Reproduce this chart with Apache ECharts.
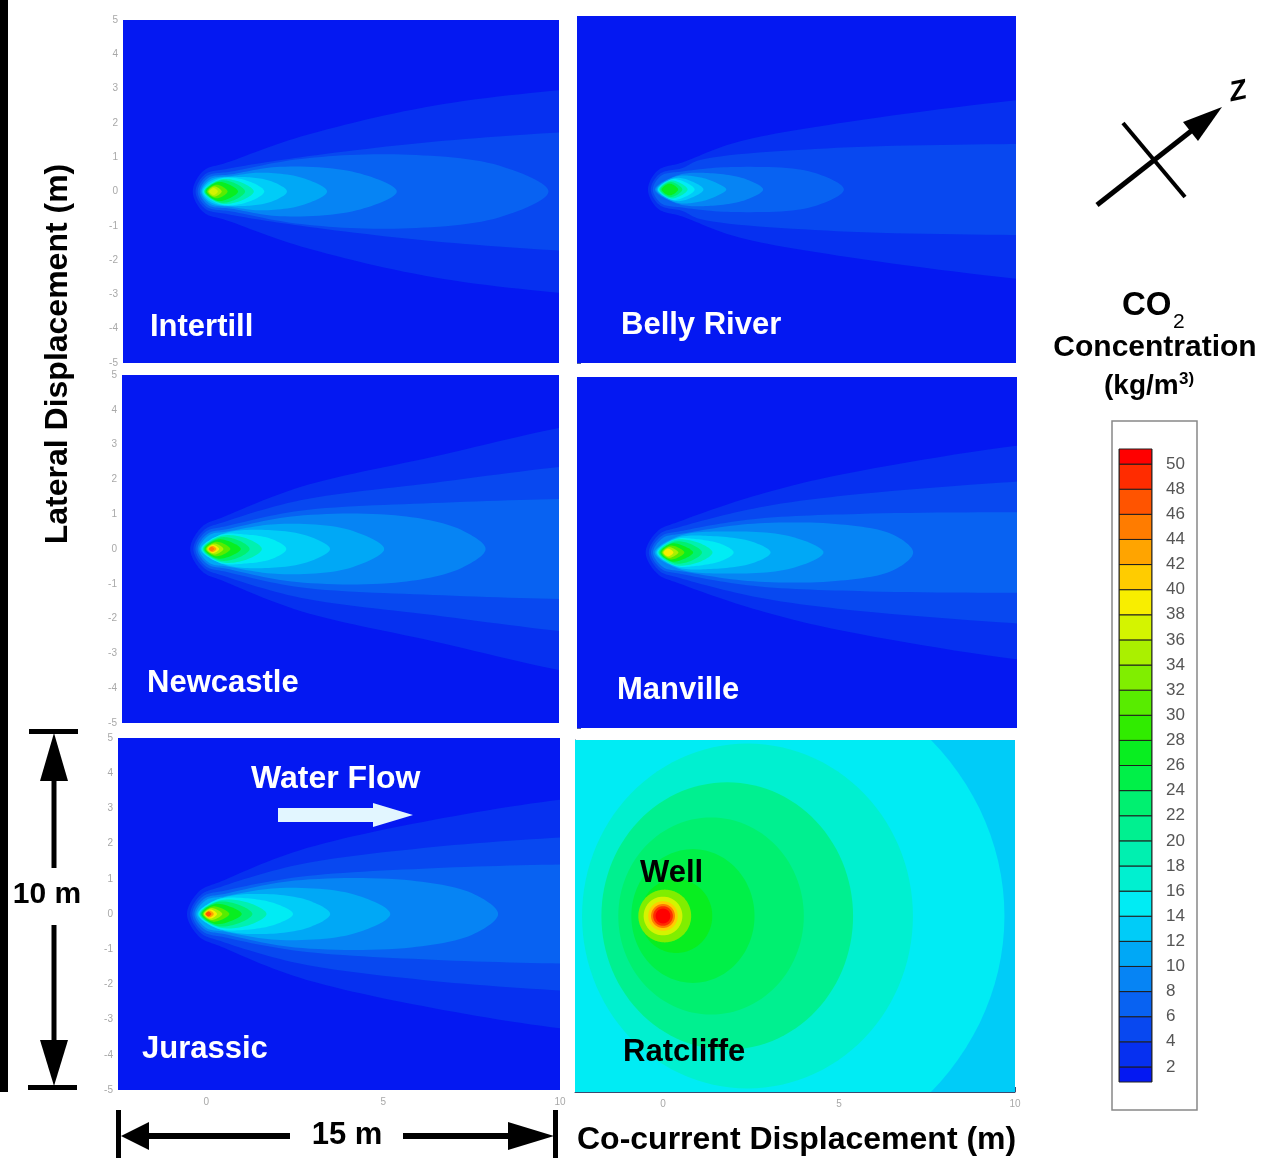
<!DOCTYPE html>
<html><head><meta charset="utf-8">
<script src="https://cdn.jsdelivr.net/npm/echarts@6/dist/echarts.min.js"></script>
<style>html,body{margin:0;padding:0;background:#fff}#c{width:1272px;height:1158px}</style>
</head><body><div id="c"></div>
<script>
// ===== DATA =====
const panelNames = ['Intertill', 'Belly River', 'Newcastle', 'Manville', 'Jurassic', 'Ratcliffe'];
const colorbarTicks = [2,4,6,8,10,12,14,16,18,20,22,24,26,28,30,32,34,36,38,40,42,44,46,48,50];
const xTickLabels = [0, 5, 10];
const xMinorTicks = [-2,-1,0,1,2,3,4,5,6,7,8,9,10];
// band colours: index = level/2  (<2, 2-4, ..., 48-50, >50)
const bandColors = ['#0418f2','#0630f0','#0848f0','#0862f2','#0684f4','#00a8f6','#00ccf8','#00ecf4',
  '#00f0d0','#00f0b0','#00f090','#00f070','#00f048','#08ee20','#30ec00','#58ec00','#80ee00','#aaf000',
  '#d4f400','#f8ee00','#ffcc00','#ffa400','#ff7c00','#ff5400','#ff2c00','#ff0000'];

// plume contours: [level, upper boundary points [x, half-width]]
const intertillBase = 0;
const intertillBands = [
  [2,  [[-0.5,0],[-0.2,0.6],[0.5,0.85],[2.6,1.6],[6.4,2.5],[10.5,3.0],[12,3.1]]],
  [4,  [[-0.42,0],[-0.15,0.5],[0.5,0.66],[2.6,1.0],[6.4,1.45],[10.5,1.75],[12,1.8]]],
  [6,  [[-0.36,0],[-0.1,0.45],[0.6,0.58],[2.6,0.95],[5.5,1.08],[8.3,0.75],[9.7,0]]],
  [8,  [[-0.3,0],[-0.05,0.4],[0.6,0.5],[2.0,0.72],[4.2,0.55],[5.35,0]]],
  [10, [[-0.26,0],[0.0,0.36],[0.6,0.45],[1.5,0.55],[2.7,0.38],[3.35,0]]],
  [12, [[-0.23,0],[0.05,0.33],[1.0,0.42],[1.8,0.28],[2.2,0]]],
  [14, [[-0.2,0],[0.3,0.38],[1.1,0.3],[1.55,0]]],
  [18, [[-0.18,0],[0.3,0.35],[0.9,0.26],[1.25,0]]],
  [22, [[-0.16,0],[0.3,0.32],[0.75,0.22],[1.0,0]]],
  [26, [[-0.13,0],[0.25,0.28],[0.8,0]]],
  [30, [[-0.1,0],[0.18,0.2],[0.5,0]]],
  [34, [[-0.06,0],[0.12,0.15],[0.33,0]]],
  [36, [[-0.03,0],[0.1,0.1],[0.22,0]]]
];
const bellyRiverBase = 0;
const bellyRiverBands = [
  [2,  [[-0.48,0],[-0.2,0.55],[0.5,0.78],[2.0,1.35],[4.9,1.9],[10.5,2.62],[12,2.7]]],
  [4,  [[-0.4,0],[-0.15,0.45],[0.5,0.62],[1.0,0.85],[4.9,1.2],[10.5,1.32],[12,1.35]]],
  [6,  [[-0.34,0],[-0.1,0.4],[0.5,0.52],[2.0,0.65],[4.2,0.5],[5.1,0]]],
  [8,  [[-0.28,0],[0.4,0.42],[1.3,0.47],[2.3,0.3],[2.8,0]]],
  [10, [[-0.24,0],[0.3,0.37],[0.9,0.37],[1.45,0.2],[1.75,0]]],
  [12, [[-0.21,0],[0.3,0.33],[0.8,0.22],[1.1,0]]],
  [14, [[-0.19,0],[0.25,0.3],[0.85,0]]],
  [18, [[-0.16,0],[0.2,0.26],[0.65,0]]],
  [22, [[-0.13,0],[0.17,0.22],[0.5,0]]],
  [26, [[-0.09,0],[0.14,0.17],[0.38,0]]]
];
const newcastleBase = 0;
const newcastleBands = [
  [2,  [[-0.55,0],[-0.2,0.65],[0.4,0.92],[2.6,1.78],[6.4,2.65],[10.5,3.56],[12,3.65]]],
  [4,  [[-0.46,0],[-0.15,0.55],[0.4,0.77],[2.6,1.4],[6.4,1.9],[10.5,2.4],[12,2.45]]],
  [6,  [[-0.4,0],[-0.1,0.5],[0.5,0.66],[2.6,1.1],[6.4,1.32],[10.5,1.45],[12,1.48]]],
  [8,  [[-0.34,0],[-0.05,0.44],[0.5,0.57],[2.5,0.95],[5.5,0.95],[7.2,0.55],[7.9,0]]],
  [10, [[-0.29,0],[0.0,0.4],[0.5,0.5],[2.0,0.72],[4.0,0.55],[5.0,0]]],
  [12, [[-0.25,0],[0.4,0.44],[1.5,0.55],[2.8,0.38],[3.45,0]]],
  [14, [[-0.22,0],[0.3,0.4],[1.0,0.42],[1.8,0.28],[2.2,0]]],
  [18, [[-0.2,0],[0.35,0.38],[1.1,0.29],[1.5,0]]],
  [22, [[-0.17,0],[0.3,0.33],[0.85,0.24],[1.15,0]]],
  [26, [[-0.14,0],[0.28,0.28],[0.9,0]]],
  [30, [[-0.11,0],[0.2,0.21],[0.6,0]]],
  [34, [[-0.08,0],[0.14,0.16],[0.4,0]]],
  [38, [[-0.05,0],[0.1,0.12],[0.28,0]]],
  [42, [[-0.03,0],[0.08,0.09],[0.2,0]]],
  [44, [[-0.01,0],[0.06,0.06],[0.14,0]]]
];
const manvilleBase = 0;
const manvilleBands = [
  [2,  [[-0.55,0],[-0.2,0.62],[0.4,0.88],[2.5,1.6],[4.9,2.2],[10.5,3.1],[12,3.15]]],
  [4,  [[-0.46,0],[-0.15,0.53],[0.4,0.72],[2.5,1.25],[4.9,1.6],[10.5,2.05],[12,2.1]]],
  [6,  [[-0.4,0],[-0.1,0.47],[0.5,0.62],[2.5,0.95],[5.5,1.1],[10.5,1.15],[12,1.15]]],
  [8,  [[-0.34,0],[-0.05,0.42],[0.5,0.54],[2.5,0.82],[5.0,0.8],[6.5,0.5],[7.05,0]]],
  [10, [[-0.29,0],[0.4,0.47],[1.8,0.6],[3.6,0.45],[4.5,0]]],
  [12, [[-0.25,0],[0.35,0.42],[1.3,0.47],[2.5,0.3],[3.0,0]]],
  [14, [[-0.22,0],[0.3,0.38],[0.9,0.38],[1.65,0.22],[1.95,0]]],
  [18, [[-0.19,0],[0.3,0.36],[1.0,0.26],[1.35,0]]],
  [22, [[-0.16,0],[0.28,0.31],[0.78,0.22],[1.05,0]]],
  [26, [[-0.13,0],[0.22,0.26],[0.8,0]]],
  [30, [[-0.1,0],[0.17,0.2],[0.55,0]]],
  [34, [[-0.07,0],[0.12,0.15],[0.38,0]]],
  [38, [[-0.04,0],[0.09,0.11],[0.24,0]]]
];
const jurassicBase = 0;
const jurassicBands = [
  [2,  [[-0.55,0],[-0.2,0.65],[0.4,0.92],[2.6,1.8],[6.4,2.67],[10.5,3.3],[12,3.35]]],
  [4,  [[-0.46,0],[-0.15,0.55],[0.4,0.77],[2.6,1.4],[6.4,1.9],[10.5,2.2],[12,2.25]]],
  [6,  [[-0.4,0],[-0.1,0.5],[0.5,0.66],[2.6,1.05],[6.4,1.3],[10.5,1.42],[12,1.45]]],
  [8,  [[-0.34,0],[-0.05,0.44],[0.5,0.57],[2.5,0.95],[5.8,0.95],[7.6,0.55],[8.25,0]]],
  [10, [[-0.29,0],[0.0,0.4],[0.5,0.5],[2.1,0.74],[4.2,0.55],[5.2,0]]],
  [12, [[-0.25,0],[0.4,0.44],[1.6,0.57],[2.9,0.38],[3.5,0]]],
  [14, [[-0.22,0],[0.3,0.41],[1.1,0.45],[2.0,0.28],[2.45,0]]],
  [18, [[-0.2,0],[0.4,0.39],[1.25,0.3],[1.7,0]]],
  [22, [[-0.17,0],[0.3,0.34],[0.95,0.25],[1.3,0]]],
  [26, [[-0.14,0],[0.28,0.29],[1.0,0]]],
  [30, [[-0.11,0],[0.2,0.22],[0.65,0]]],
  [34, [[-0.08,0],[0.15,0.17],[0.45,0]]],
  [38, [[-0.06,0],[0.11,0.13],[0.3,0]]],
  [42, [[-0.04,0],[0.08,0.1],[0.21,0]]],
  [46, [[-0.02,0],[0.06,0.07],[0.14,0]]]
];
// radial contours around the Ratcliffe well: [level, xLeft, xRight, yHalf]
const ratcliffeBase = 12;
const ratcliffeRings = [
  [14, -6.7, 9.7, 7.5],
  [16, -2.3, 7.1, 4.9],
  [20, -1.75, 5.4, 3.8],
  [22, -1.27, 4.0, 2.8],
  [24, -0.9, 2.6, 1.9],
  [26, -0.65, 1.4, 1.05],
  [32, -0.7, 0.8, 0.75],
  [36, -0.55, 0.55, 0.55],
  [40, -0.42, 0.42, 0.42],
  [44, -0.34, 0.34, 0.34],
  [48, -0.28, 0.28, 0.28],
  [50, -0.21, 0.21, 0.21]
];

// ===== LAYOUT =====
const panelBoxes = [
  [123, 20, 436, 343], [577, 16, 439, 347],
  [122, 375, 437, 348], [577, 377, 440, 351],
  [118, 738, 442, 352], [575, 740, 440, 352]
];
const FONT = '"Liberation Sans", Arial, Helvetica, sans-serif';
const colorOf = lv => bandColors[Math.min(bandColors.length - 1, Math.round(lv / 2))];

// closed centripetal Catmull-Rom curve through pixel points
function splineClosed(P, steps) {
  const n = P.length, out = [];
  const d = (a, b) => Math.max(1e-3, Math.pow(Math.hypot(b[0] - a[0], b[1] - a[1]), 0.5));
  for (let i = 0; i < n; i++) {
    const p0 = P[(i - 1 + n) % n], p1 = P[i], p2 = P[(i + 1) % n], p3 = P[(i + 2) % n];
    const t0 = 0, t1 = t0 + d(p0, p1), t2 = t1 + d(p1, p2), t3 = t2 + d(p2, p3);
    for (let s = 0; s < steps; s++) {
      const t = t1 + (t2 - t1) * s / steps;
      const lerp = (a, b, ta, tb) => [
        (tb - t) / (tb - ta) * a[0] + (t - ta) / (tb - ta) * b[0],
        (tb - t) / (tb - ta) * a[1] + (t - ta) / (tb - ta) * b[1]];
      const A1 = lerp(p0, p1, t0, t1), A2 = lerp(p1, p2, t1, t2), A3 = lerp(p2, p3, t2, t3);
      const B1 = lerp(A1, A2, t0, t2), B2 = lerp(A2, A3, t1, t3);
      out.push(lerp(B1, B2, t1, t2));
    }
  }
  return out;
}

function baseRect(api, level) {
  const p0 = api.coord([-2.5, 5]), p1 = api.coord([10, -5]);
  return {type: 'rect', shape: {x: p0[0], y: p0[1], width: p1[0] - p0[0], height: p1[1] - p0[1]},
          style: {fill: colorOf(level)}};
}

function plumeSeries(gi, base, bands) {
  return {
    type: 'custom', xAxisIndex: gi, yAxisIndex: gi, clip: true, silent: true, animation: false,
    data: [0].concat(bands.map((b, i) => i + 1)).map(i => [0, 0, i]),
    renderItem: function (params, api) {
      const idx = params.dataIndex;
      if (idx === 0) return baseRect(api, base);
      const band = bands[idx - 1];
      const pts = band[1];
      const closed = pts[pts.length - 1][1] === 0;
      const upper = pts.map(p => api.coord([p[0], p[1]]));
      const lower = pts.slice(1, closed ? pts.length - 1 : pts.length).reverse()
        .map(p => api.coord([p[0], -p[1]]));
      return {type: 'polygon', shape: {points: splineClosed(upper.concat(lower), 14)},
              style: {fill: colorOf(band[0])}};
    }
  };
}

function ringSeries(gi, base, rings) {
  return {
    type: 'custom', xAxisIndex: gi, yAxisIndex: gi, clip: true, silent: true, animation: false,
    data: [0].concat(rings.map((r, i) => i + 1)).map(i => [0, 0, i]),
    renderItem: function (params, api) {
      const idx = params.dataIndex;
      if (idx === 0) return baseRect(api, base);
      const r = rings[idx - 1];
      const cx = (r[1] + r[2]) / 2, rx = (r[2] - r[1]) / 2, ry = r[3];
      const pts = [];
      for (let k = 0; k < 120; k++) {
        const a = k / 120 * Math.PI * 2;
        pts.push(api.coord([cx + rx * Math.cos(a), ry * Math.sin(a)]));
      }
      return {type: 'polygon', shape: {points: pts}, style: {fill: colorOf(r[0])}};
    }
  };
}

const grids = panelBoxes.map(b => ({left: b[0], top: b[1], width: b[2], height: b[3]}));
grids.push({left: 1119, top: 449, width: 33, height: 633});

const xAxes = panelBoxes.map((b, i) => ({
  gridIndex: i, type: 'value', min: -2.5, max: 10, position: 'bottom',
  axisLine: {show: i === 5, onZero: false, lineStyle: {color: '#3a4a70', width: 1}},
  axisTick: {show: i === 5, inside: true, length: 5, customValues: xMinorTicks, lineStyle: {color: '#3a4a70'}},
  axisLabel: {show: i >= 4, customValues: xTickLabels, color: '#a8a8a8', fontSize: 10, margin: 7, fontFamily: FONT},
  splitLine: {show: false}
}));
xAxes.push({gridIndex: 6, type: 'value', min: 0, max: 1, show: false});

const yAxes = panelBoxes.map((b, i) => ({
  gridIndex: i, type: 'value', min: -5, max: 5, interval: 1, position: 'left',
  axisLine: {show: i === 5, onZero: false, lineStyle: {color: '#3a4a70', width: 1}},
  axisTick: {show: i % 2 === 1, inside: true, length: 4, lineStyle: {color: i === 5 ? '#3a4a70' : '#5060a0'}},
  minorTick: {show: i === 5, splitNumber: 3, length: 2, lineStyle: {color: '#3a4a70'}},
  axisLabel: {show: i % 2 === 0, color: '#a8a8a8', fontSize: 10, margin: 5, fontFamily: FONT},
  splitLine: {show: false}
}));
yAxes.push({gridIndex: 6, type: 'value', min: 0.8, max: 51.2, position: 'right',
  axisLine: {show: false}, axisTick: {show: false}, splitLine: {show: false},
  axisLabel: {customValues: colorbarTicks, color: '#555', fontSize: 17, margin: 14, fontFamily: FONT}});

const colorbarSeries = {
  type: 'custom', xAxisIndex: 6, yAxisIndex: 6, clip: true, silent: true, animation: false,
  data: bandColors.map((c, i) => [0.5, 0, i]),
  renderItem: function (params, api) {
    const i = params.dataIndex, n = bandColors.length;
    const lo = i === 0 ? -10 : colorbarTicks[i - 1];
    const hi = i === n - 1 ? 100 : colorbarTicks[i];
    const p0 = api.coord([0, hi]), p1 = api.coord([1, lo]);
    return {type: 'rect', shape: {x: p0[0], y: p0[1], width: p1[0] - p0[0], height: p1[1] - p0[1]},
            style: {fill: bandColors[i], stroke: '#1e1e1e', lineWidth: 1}};
  }
};

function txt(text, x, y, size, color, extra) {
  return {type: 'text', x: x, y: y, z: 100, rotation: (extra && extra.rotation) || 0,
    style: Object.assign({text: text, fontSize: size, fontWeight: 'bold', fontFamily: FONT, fill: color,
            align: 'left', verticalAlign: 'middle'}, (extra && extra.style) || {})};
}
function rect(x, y, w, h, fill) {
  return {type: 'rect', z: 100, shape: {x: x, y: y, width: w, height: h}, style: {fill: fill}};
}
function poly(points, fill) {
  return {type: 'polygon', z: 100, shape: {points: points}, style: {fill: fill}};
}

const labelPos = [[150, 327], [621, 325], [147, 683], [617, 690], [142, 1049], [623, 1052]];
const graphics = [
  rect(0, 0, 8, 1092, '#000'),
  txt('Lateral Displacement (m)', 58, 354, 32, '#000', {rotation: Math.PI / 2, style: {align: 'center'}}),
  txt('Co-current Displacement (m)', 577, 1140, 32, '#000'),
  // 10 m arrow
  rect(29, 729, 49, 5, '#000'),
  poly([[54, 733], [40, 781], [68, 781]], '#000'),
  rect(51.5, 779, 5, 89, '#000'),
  txt('10 m', 47, 895, 30, '#000', {style: {align: 'center'}}),
  rect(51.5, 925, 5, 117, '#000'),
  poly([[40, 1040], [68, 1040], [54, 1086]], '#000'),
  rect(28, 1085, 49, 5, '#000'),
  // 15 m arrow
  rect(116, 1110, 5, 48, '#000'),
  poly([[121, 1136], [149, 1122], [149, 1150]], '#000'),
  rect(147, 1133, 143, 6, '#000'),
  txt('15 m', 347, 1135, 31, '#000', {style: {align: 'center'}}),
  rect(403, 1133, 108, 6, '#000'),
  poly([[508, 1122], [508, 1150], [554, 1136]], '#000'),
  rect(553, 1110, 5, 48, '#000'),
  // water flow
  txt('Water Flow', 251, 779, 32, '#fff'),
  poly([[278, 808], [373, 808], [373, 803], [413, 815], [373, 827], [373, 822], [278, 822]], '#e2f6ff'),
  txt('Well', 640, 873, 31, '#000'),
  // compass
  {type: 'line', z: 100, shape: {x1: 1097, y1: 205, x2: 1195, y2: 128}, style: {stroke: '#000', lineWidth: 5}},
  poly([[1222, 107], [1183, 122], [1198, 141]], '#000'),
  {type: 'line', z: 100, shape: {x1: 1123, y1: 123, x2: 1185, y2: 197}, style: {stroke: '#000', lineWidth: 4}},
  txt('Z', 1238, 92, 28, '#000', {rotation: 0.2, style: {align: 'center', fontStyle: 'italic'}}),
  // legend title
  txt('CO', 1122, 306, 33, '#000'),
  txt('2', 1173, 322, 21, '#000', {style: {fontWeight: 'normal'}}),
  txt('Concentration', 1155, 348, 30, '#000', {style: {align: 'center'}}),
  txt('(kg/m', 1104, 386, 28, '#000'),
  txt('3)', 1179, 379, 17, '#000'),
  // colorbar frame
  {type: 'rect', z: 1, shape: {x: 1112, y: 421, width: 85, height: 689}, style: {fill: 'none', stroke: '#888', lineWidth: 1.5}},
  {type: 'rect', z: 100, shape: {x: 1119, y: 449, width: 33, height: 633}, style: {fill: 'none', stroke: '#222', lineWidth: 1}}
];
panelNames.forEach((n, i) => {
  graphics.push(txt(n, labelPos[i][0], labelPos[i][1], 31, i === 5 ? '#000' : '#fff'));
});

const chart = echarts.init(document.getElementById('c'), null, {renderer: 'canvas'});
chart.setOption({
  animation: false,
  backgroundColor: '#fff',
  grid: grids,
  xAxis: xAxes,
  yAxis: yAxes,
  series: [
    plumeSeries(0, intertillBase, intertillBands),
    plumeSeries(1, bellyRiverBase, bellyRiverBands),
    plumeSeries(2, newcastleBase, newcastleBands),
    plumeSeries(3, manvilleBase, manvilleBands),
    plumeSeries(4, jurassicBase, jurassicBands),
    ringSeries(5, ratcliffeBase, ratcliffeRings),
    colorbarSeries
  ],
  graphic: {elements: graphics}
});
</script>
</body></html>
